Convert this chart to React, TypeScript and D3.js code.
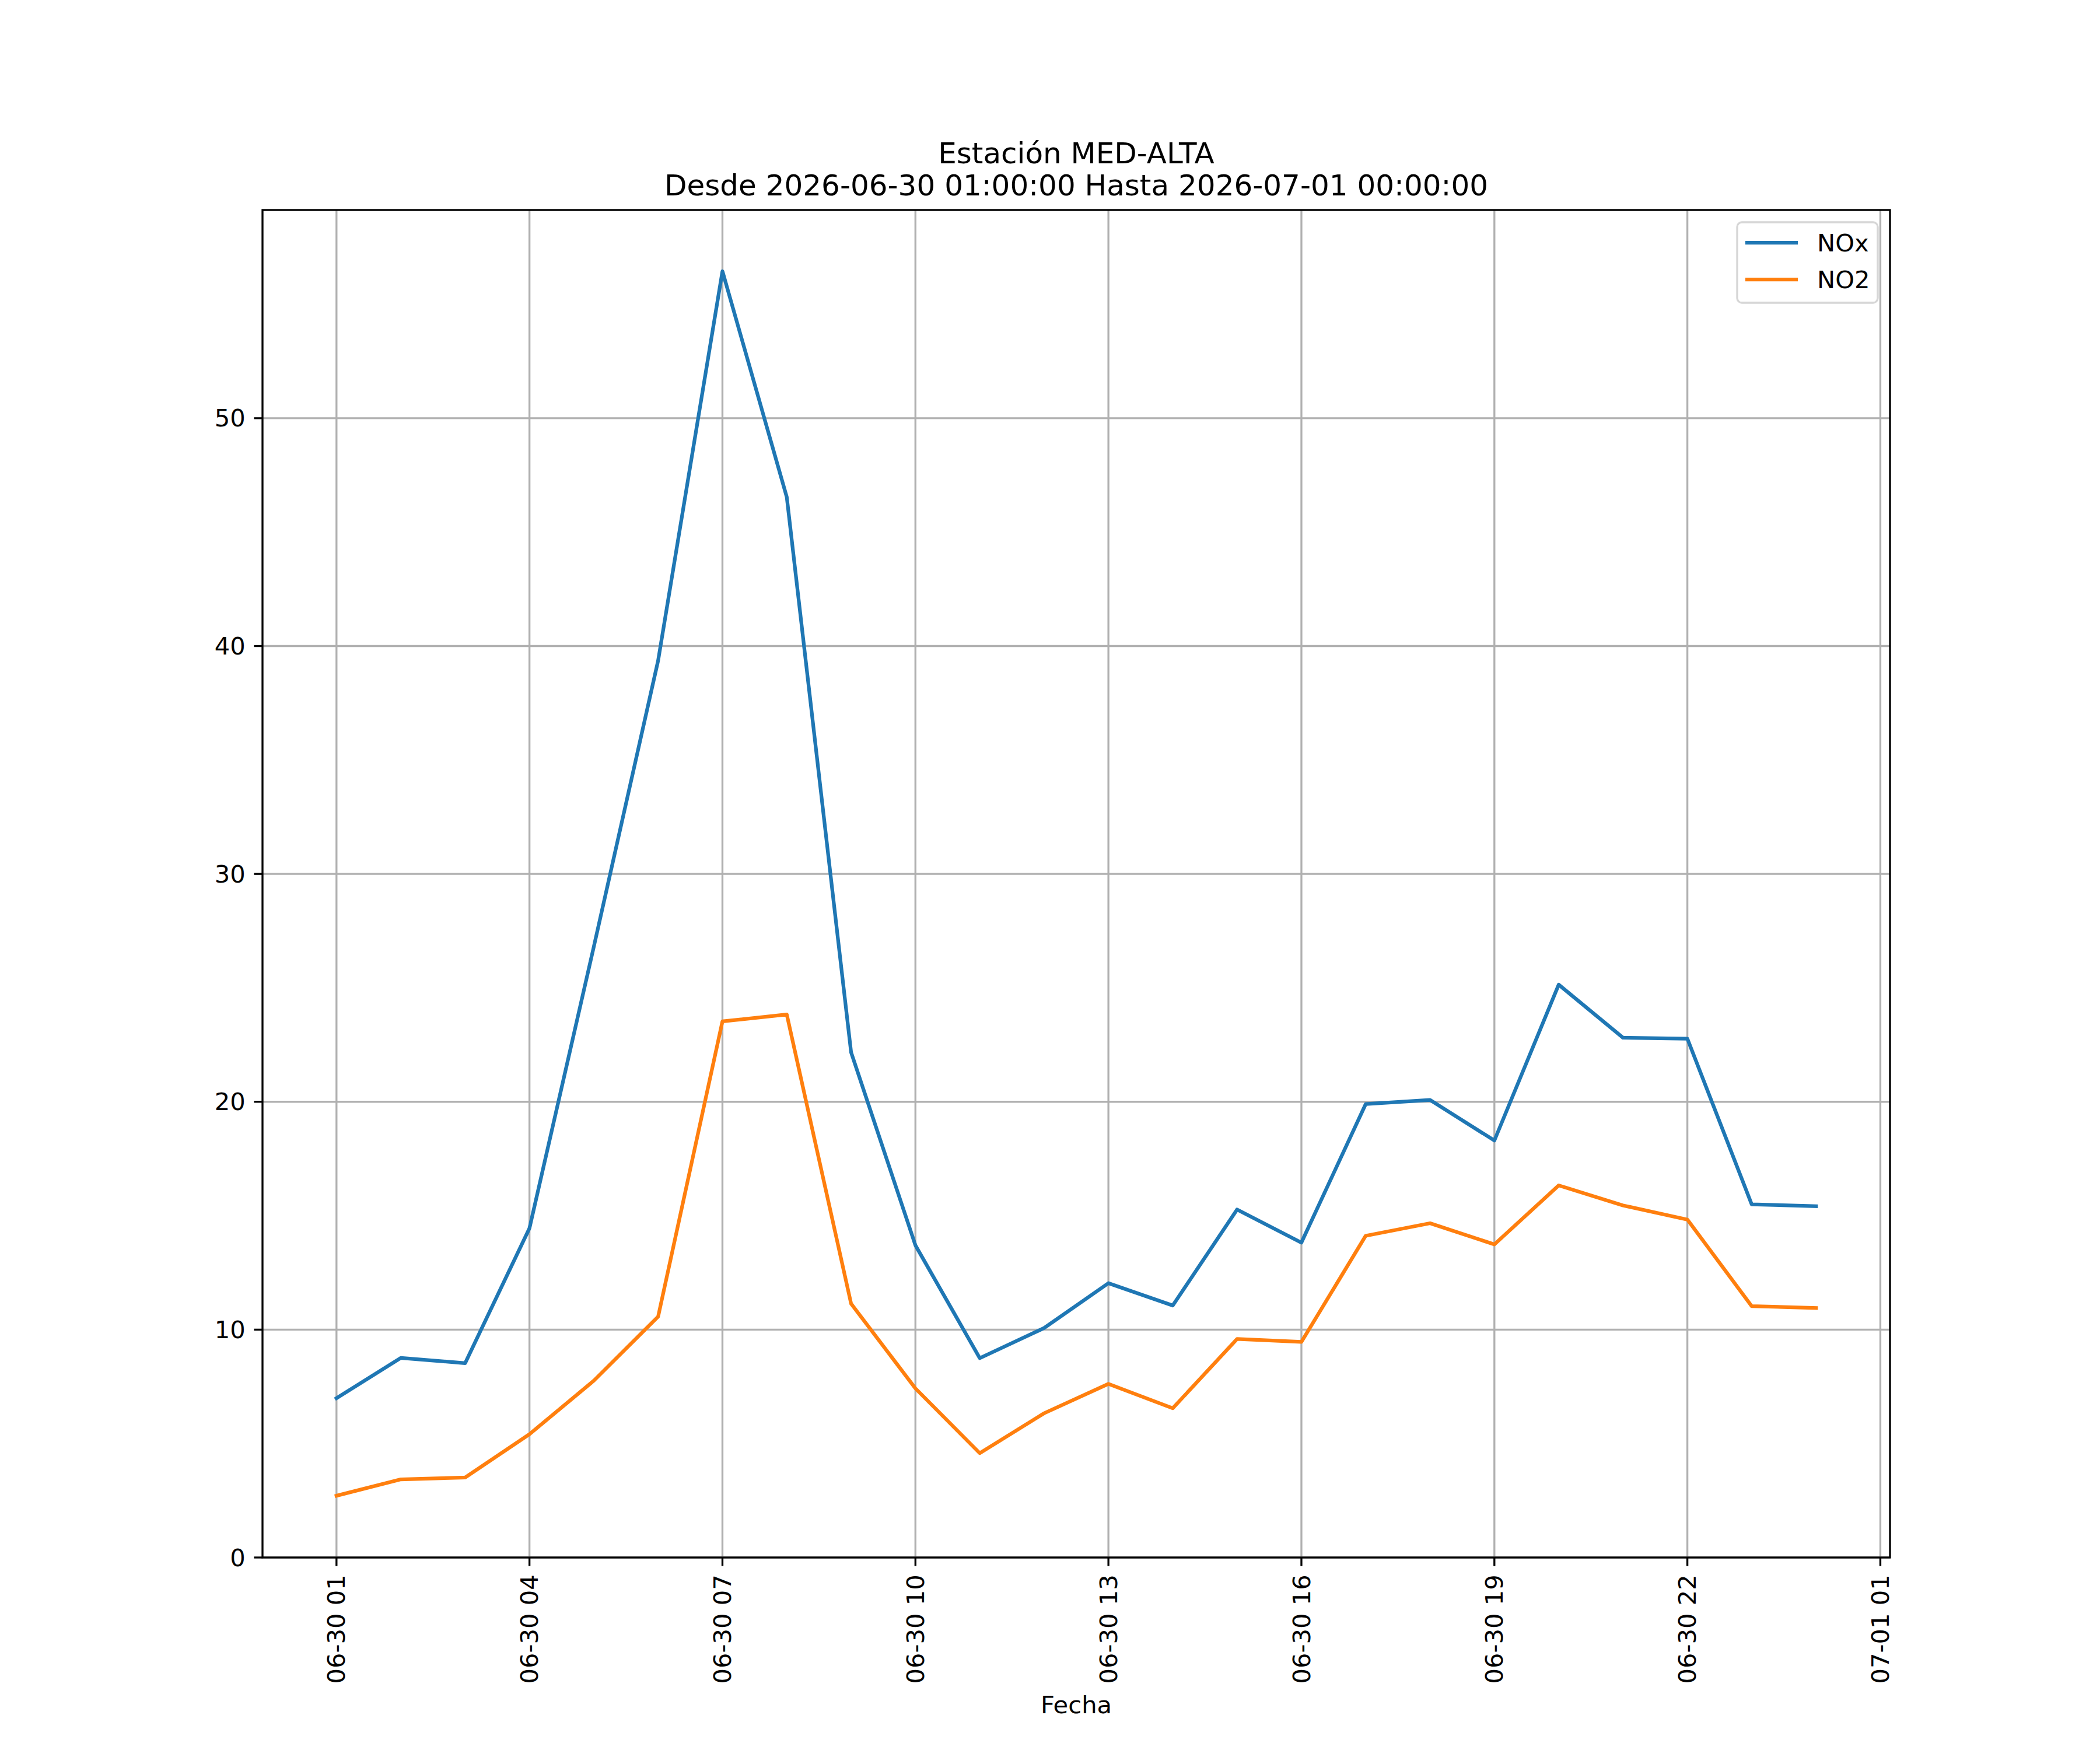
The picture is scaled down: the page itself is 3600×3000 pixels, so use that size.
import React from "react";
import * as d3 from "d3";

const hours: string[] = [
  "2026-06-30T01:00:00Z", "2026-06-30T02:00:00Z", "2026-06-30T03:00:00Z", "2026-06-30T04:00:00Z",
  "2026-06-30T05:00:00Z", "2026-06-30T06:00:00Z", "2026-06-30T07:00:00Z", "2026-06-30T08:00:00Z",
  "2026-06-30T09:00:00Z", "2026-06-30T10:00:00Z", "2026-06-30T11:00:00Z", "2026-06-30T12:00:00Z",
  "2026-06-30T13:00:00Z", "2026-06-30T14:00:00Z", "2026-06-30T15:00:00Z", "2026-06-30T16:00:00Z",
  "2026-06-30T17:00:00Z", "2026-06-30T18:00:00Z", "2026-06-30T19:00:00Z", "2026-06-30T20:00:00Z",
  "2026-06-30T21:00:00Z", "2026-06-30T22:00:00Z", "2026-06-30T23:00:00Z", "2026-07-01T00:00:00Z",
];

const noxValues: number[] = [
  6.99, 8.76, 8.53, 14.45, 26.8, 39.36, 56.45, 46.54, 22.17, 13.7, 8.75, 10.07,
  12.04, 11.06, 15.27, 13.82, 19.9, 20.08, 18.3, 25.14, 22.81, 22.77, 15.5, 15.42,
];

const no2Values: number[] = [
  2.71, 3.43, 3.51, 5.41, 7.76, 10.57, 23.53, 23.83, 11.14, 7.42, 4.58, 6.33,
  7.62, 6.55, 9.59, 9.46, 14.12, 14.67, 13.74, 16.33, 15.45, 14.83, 11.03, 10.95,
];

const yTicks: number[] = [0, 10, 20, 30, 40, 50];
const seriesNames: string[] = ["NOx", "NO2"];
const seriesColors: string[] = ["#1f77b4", "#ff7f0e"];
const titleLines: string[] = ["Estación MED-ALTA", "Desde 2026-06-30 01:00:00 Hasta 2026-07-01 00:00:00"];
const xLabel = "Fecha";

const W = 3600;
const H = 3000;
const L = 450;
const R = 3240;
const T = 360;
const B = 2670;
const FONT = "DejaVu Sans, sans-serif";
const TICK_FS = 41.67;
const TITLE_FS = 50;
const TICK_LEN = 14.58;
const PAD = 14.58;
const SPINE = 3.33;
const LW = 6.25;

export default function App() {
  const dates = hours.map((h) => new Date(h));
  const t0 = dates[0].getTime();
  const t1 = dates[dates.length - 1].getTime();
  const mx = (t1 - t0) * 0.05;
  const x = d3.scaleUtc().domain([new Date(t0 - mx), new Date(t1 + mx)]).range([L, R]);

  const allVals = noxValues.concat(no2Values);
  const vmin = d3.min(allVals) as number;
  const vmax = d3.max(allVals) as number;
  const y = d3.scaleLinear().domain([0, vmax + 0.05 * (vmax - vmin)]).range([B, T]);

  const xTicks = d3.utcHour.range(new Date("2026-06-30T01:00:00Z"), new Date(t1 + mx), 3);
  const fmt = d3.utcFormat("%m-%d %H");

  const line = d3
    .line<number>()
    .x((_, i) => x(dates[i]))
    .y((v) => y(v));

  const series = [noxValues, no2Values];

  return (
    <svg
      width={W}
      height={H}
      viewBox={`0 0 ${W} ${H}`}
      style={{ position: "absolute", left: 0, top: 0, background: "#fff" }}
      fontFamily={FONT}
    >
      <rect x={0} y={0} width={W} height={H} fill="#fff" />
      {/* grid */}
      <g stroke="#b0b0b0" strokeWidth={3.33}>
        {xTicks.map((d, i) => (
          <line key={"gx" + i} x1={x(d)} x2={x(d)} y1={T} y2={B} />
        ))}
        {yTicks.map((v, i) => (
          <line key={"gy" + i} x1={L} x2={R} y1={y(v)} y2={y(v)} />
        ))}
      </g>
      {/* data lines */}
      <defs>
        <clipPath id="plotclip">
          <rect x={L} y={T} width={R - L} height={B - T} />
        </clipPath>
      </defs>
      <g clipPath="url(#plotclip)">
        {series.map((s, i) => (
          <path
            key={"s" + i}
            d={line(s) || ""}
            fill="none"
            stroke={seriesColors[i]}
            strokeWidth={LW}
            strokeLinejoin="round"
            strokeLinecap="square"
          />
        ))}
      </g>
      {/* spines */}
      <rect x={L} y={T} width={R - L} height={B - T} fill="none" stroke="#000" strokeWidth={SPINE} strokeLinejoin="miter" />
      {/* x ticks */}
      <g>
        {xTicks.map((d, i) => {
          const px = x(d);
          return (
            <g key={"xt" + i}>
              <line x1={px} x2={px} y1={B} y2={B + TICK_LEN} stroke="#000" strokeWidth={SPINE} />
              <text
                transform={`translate(${px},${B + TICK_LEN + PAD}) rotate(-90)`}
                textAnchor="end"
                dy="0.35em"
                fontSize={TICK_FS}
                fill="#000"
              >
                {fmt(d)}
              </text>
            </g>
          );
        })}
      </g>
      {/* y ticks */}
      <g>
        {yTicks.map((v, i) => (
          <g key={"yt" + i}>
            <line x1={L - TICK_LEN} x2={L} y1={y(v)} y2={y(v)} stroke="#000" strokeWidth={SPINE} />
            <text x={L - TICK_LEN - PAD} y={y(v)} dy="0.35em" textAnchor="end" fontSize={TICK_FS} fill="#000">
              {v}
            </text>
          </g>
        ))}
      </g>
      {/* x label */}
      <text x={(L + R) / 2} y={2937} textAnchor="middle" fontSize={TICK_FS} fill="#000">
        {xLabel}
      </text>
      {/* title */}
      <text x={(L + R) / 2} y={280} textAnchor="middle" fontSize={TITLE_FS} fill="#000">
        {titleLines[0]}
      </text>
      <text x={(L + R) / 2} y={335} textAnchor="middle" fontSize={TITLE_FS} fill="#000">
        {titleLines[1]}
      </text>
      {/* legend */}
      <g>
        <rect x={2978} y={381} width={241} height={138} rx={8} ry={8} fill="#fff" fillOpacity={0.8} stroke="#d6d6d6" strokeWidth={3.33} />
        {seriesNames.map((n, i) => {
          const ly = 416 + i * 63;
          return (
            <g key={"lg" + i}>
              <line x1={2992} x2={3082} y1={ly} y2={ly} stroke={seriesColors[i]} strokeWidth={LW} />
              <text x={3115} y={ly} dy="0.35em" fontSize={TICK_FS} fill="#000">
                {n}
              </text>
            </g>
          );
        })}
      </g>
    </svg>
  );
}
